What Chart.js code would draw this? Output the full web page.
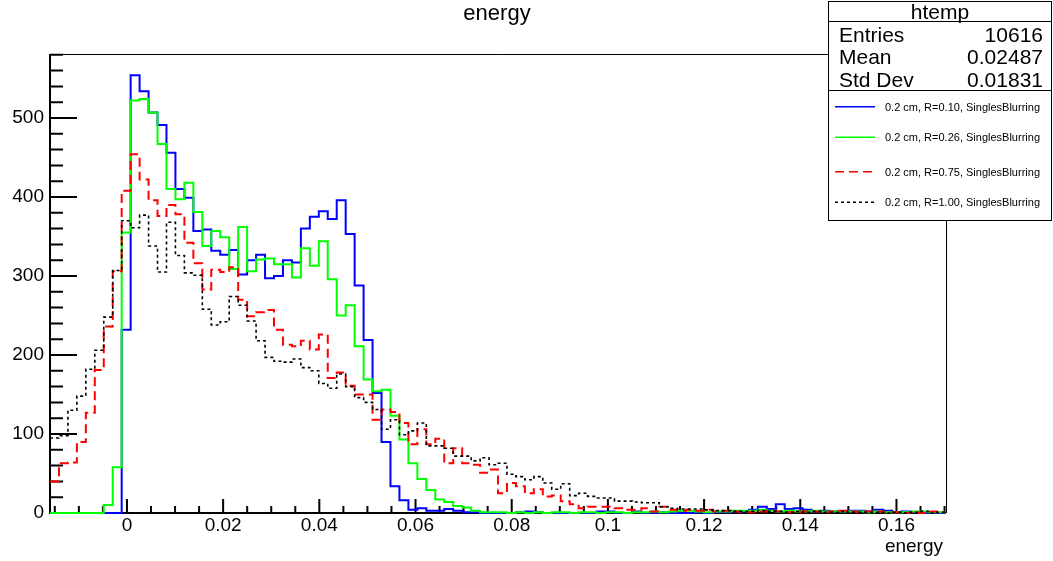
<!DOCTYPE html>
<html>
<head>
<meta charset="utf-8">
<title>energy</title>
<script src="https://cdn.jsdelivr.net/npm/chart.js@4.4.1/dist/chart.umd.min.js"></script>
<style>
  html, body { margin: 0; padding: 0; background: #fff; }
  #wrap { position: relative; width: 1053px; height: 561px; overflow: hidden;
          font-family: "Liberation Sans", Arial, Helvetica, sans-serif; color: #000; }
  #plot { position: absolute; left: 0; top: 0; }
  .txt { position: absolute; white-space: nowrap; }
  #title { left: 0; width: 994px; top: 0; height: 26px; line-height: 26px; text-align: center; font-size: 22px; }
  #xtitle { right: 110px; top: 534px; height: 24px; line-height: 24px; font-size: 19px; }
  #stats { position: absolute; left: 828px; top: 1px; width: 222px; height: 218px;
           border: 1px solid #000; background: #fff; }
  .sep { position: absolute; left: 0; width: 222px; height: 1px; background: #000; }
  .stat { position: absolute; height: 24px; line-height: 24px; font-size: 21px; white-space: nowrap; }
  .leg { position: absolute; left: 56px; height: 14px; line-height: 14px; font-size: 11px; white-space: nowrap; }
</style>
</head>
<body>
<div id="wrap">
  <canvas id="plot" width="1053" height="561"></canvas>
  <div id="title" class="txt">energy</div>
  <div id="xtitle" class="txt">energy</div>
  <div id="stats">
    <div class="stat" style="left:0;width:222px;top:-2px;text-align:center;">htemp</div>
    <div class="sep" style="top:19px;"></div>
    <div class="stat" style="left:10px;top:21px;">Entries</div>
    <div class="stat" id="sEntries" style="right:8px;top:21px;"></div>
    <div class="stat" style="left:10px;top:43px;">Mean</div>
    <div class="stat" id="sMean" style="right:8px;top:43px;"></div>
    <div class="stat" style="left:10px;top:66px;">Std Dev</div>
    <div class="stat" id="sStd" style="right:8px;top:66px;"></div>
    <div class="sep" style="top:88px;"></div>
    <svg id="legLines" width="222" height="216" style="position:absolute;left:0;top:0;"></svg>
  </div>
</div>
<script>
const X_MIN = -0.016;
const X_MAX = 0.1703;
const N_BINS = 100;
const Y_MAX = 581;

const seriesLabels = [
  '0.2 cm, R=0.10, SinglesBlurring',
  '0.2 cm, R=0.26, SinglesBlurring',
  '0.2 cm, R=0.75, SinglesBlurring',
  '0.2 cm, R=1.00, SinglesBlurring'
];
const seriesColors = ['#0000ff', '#00ff00', '#ff0000', '#000000'];
const seriesDash   = [[], [], [9, 5], [3, 3]];
const seriesWidth  = [2, 2, 2, 1.6];

// bin contents
const countsR010 = [
  0, 0, 0, 0, 0, 0, 0, 0, 232, 554,
  534, 507, 491, 456, 410, 399, 357, 359, 332, 327,
  333, 302, 320, 327, 297, 300, 320, 317, 360, 375,
  382, 372, 396, 353, 288, 219, 152, 90, 34, 16,
  4, 6, 3, 3, 5, 3, 1, 1, 0, 0,
  0, 0, 1, 2, 1, 0, 0, 0, 0, 0,
  0, 2, 2, 0, 0, 2, 0, 0, 1, 0,
  0, 0, 1, 0, 1, 1, 2, 2, 4, 8,
  5, 11, 5, 6, 4, 2, 3, 2, 2, 3,
  3, 2, 4, 3, 1, 2, 1, 0, 1, 0
];
const countsR026 = [
  0, 0, 0, 0, 0, 0, 10, 58, 355, 522,
  524, 507, 467, 410, 397, 418, 381, 338, 357, 349,
  309, 362, 306, 321, 322, 315, 315, 298, 335, 313,
  344, 296, 250, 263, 211, 169, 154, 156, 123, 93,
  63, 43, 29, 17, 14, 9, 7, 3, 1, 1,
  1, 0, 1, 0, 1, 0, 1, 1, 0, 1,
  1, 0, 1, 1, 0, 1, 1, 2, 1, 2,
  3, 3, 2, 1, 2, 2, 3, 3, 3, 4,
  3, 2, 3, 2, 2, 3, 2, 2, 2, 2,
  2, 1, 2, 1, 1, 1, 2, 2, 1, 1
];
const countsR075 = [
  40, 63, 64, 90, 127, 181, 236, 306, 408, 454,
  422, 396, 376, 390, 378, 342, 316, 283, 308, 305,
  311, 270, 249, 254, 257, 232, 213, 211, 218, 207,
  226, 171, 178, 161, 150, 150, 118, 131, 128, 114,
  87, 106, 87, 94, 63, 82, 63, 61, 51, 55,
  25, 38, 34, 25, 30, 21, 22, 15, 11, 6,
  8, 8, 8, 6, 4, 4, 6, 2, 8, 4,
  3, 4, 3, 4, 2, 3, 2, 1, 1, 2,
  3, 2, 1, 1, 2, 2, 1, 2, 3, 2,
  1, 2, 2, 1, 1, 0, 1, 0, 2, 1
];
const countsR100 = [
  95, 98, 130, 148, 182, 206, 248, 307, 370, 361,
  377, 338, 305, 368, 326, 304, 301, 258, 238, 242,
  274, 263, 243, 218, 197, 192, 191, 195, 184, 180,
  164, 158, 176, 160, 146, 140, 131, 106, 118, 99,
  104, 114, 85, 85, 82, 72, 72, 66, 70, 61,
  63, 49, 46, 42, 46, 38, 30, 37, 22, 25,
  21, 19, 19, 15, 15, 14, 13, 13, 8, 6,
  5, 5, 5, 4, 3, 3, 2, 2, 2, 3,
  2, 2, 1, 2, 1, 2, 1, 1, 2, 1,
  1, 1, 1, 0, 1, 0, 1, 2, 0, 1
];
const allCounts = [countsR010, countsR026, countsR075, countsR100];

const xTickValues = [0, 0.02, 0.04, 0.06, 0.08, 0.1, 0.12, 0.14, 0.16];
const xTickLabels = ['0', '0.02', '0.04', '0.06', '0.08', '0.1', '0.12', '0.14', '0.16'];
const yTickValues = [0, 100, 200, 300, 400, 500];
const yTickLabels = ['0', '100', '200', '300', '400', '500'];

const statEntries = '10616';
const statMean    = '0.02487';
const statStdDev  = '0.01831';

// one point per bin left edge, plus the closing edge
function toSteps(counts) {
  const w = (X_MAX - X_MIN) / N_BINS;
  const pts = counts.map((c, i) => ({ x: X_MIN + i * w, y: c }));
  pts.push({ x: X_MAX, y: counts[counts.length - 1] });
  return pts;
}

// ROOT-style frame with inward ticks
const rootFrame = {
  id: 'rootFrame',
  beforeDatasetsDraw(chart) {
    const { ctx, chartArea: a, scales: { x, y } } = chart;
    ctx.save();
    ctx.strokeStyle = '#000';
    ctx.lineWidth = 1;
    ctx.beginPath();
    ctx.moveTo(a.left, a.top + 0.5);
    ctx.lineTo(a.right + 0.5, a.top + 0.5);
    ctx.lineTo(a.right + 0.5, a.bottom);
    ctx.stroke();

    ctx.lineWidth = 2;
    ctx.beginPath();
    ctx.moveTo(a.left, a.top);
    ctx.lineTo(a.left, a.bottom);
    ctx.lineTo(a.right, a.bottom);
    // y ticks every 20, major every 100
    for (let i = 0; i * 20 <= Y_MAX; i++) {
      const py = y.getPixelForValue(i * 20);
      const len = i % 5 === 0 ? 27 : 13;
      ctx.moveTo(a.left, py);
      ctx.lineTo(a.left + len, py);
    }
    // x ticks every 0.005, major every 0.02
    for (let i = -3; i <= 34; i++) {
      const v = i * 0.005;
      if (v < X_MIN || v > X_MAX) continue;
      const px = x.getPixelForValue(v);
      const len = i % 4 === 0 ? 14 : 7;
      ctx.moveTo(px, a.bottom);
      ctx.lineTo(px, a.bottom - len);
    }
    ctx.stroke();
    ctx.restore();
  }
};

const tickFont = { family: '"Liberation Sans", Arial, sans-serif', size: 19 };

const datasets = allCounts.map((counts, i) => ({
  label: seriesLabels[i],
  data: toSteps(counts),
  borderColor: seriesColors[i],
  borderWidth: seriesWidth[i],
  borderDash: seriesDash[i],
  stepped: true,
  pointRadius: 0,
  fill: false,
  clip: false,
  order: allCounts.length - i
}));

new Chart(document.getElementById('plot'), {
  type: 'line',
  data: { datasets },
  options: {
    responsive: false,
    devicePixelRatio: 1,
    animation: false,
    parsing: false,
    layout: { padding: { left: 0, top: 54, right: 107, bottom: 0 } },
    plugins: {
      legend: { display: false },
      title: { display: false },
      tooltip: { enabled: false }
    },
    scales: {
      x: {
        type: 'linear',
        min: X_MIN,
        max: X_MAX,
        afterBuildTicks: s => { s.ticks = xTickValues.map(v => ({ value: v })); },
        afterFit: s => { s.height = 48; },
        grid: { display: false, drawTicks: false },
        border: { display: false },
        ticks: {
          autoSkip: false, maxRotation: 0, padding: 1,
          color: '#000', font: tickFont,
          callback: (v, i) => xTickLabels[i]
        }
      },
      y: {
        min: 0,
        max: Y_MAX,
        afterBuildTicks: s => { s.ticks = yTickValues.map(v => ({ value: v })); },
        afterFit: s => { s.width = 50; },
        grid: { display: false, drawTicks: false },
        border: { display: false },
        ticks: {
          padding: 6,
          color: '#000', font: tickFont,
          callback: (v, i) => yTickLabels[i]
        }
      }
    }
  },
  plugins: [rootFrame]
});

// stats box and legend
document.getElementById('sEntries').textContent = statEntries;
document.getElementById('sMean').textContent = statMean;
document.getElementById('sStd').textContent = statStdDev;

const legCentres = [104.7, 135.3, 169.7, 200.3];
const svg = document.getElementById('legLines');
const stats = document.getElementById('stats');
seriesLabels.forEach((name, i) => {
  const ln = document.createElementNS('http://www.w3.org/2000/svg', 'line');
  ln.setAttribute('x1', 6);
  ln.setAttribute('x2', 46);
  ln.setAttribute('y1', legCentres[i]);
  ln.setAttribute('y2', legCentres[i]);
  ln.setAttribute('stroke', seriesColors[i]);
  ln.setAttribute('stroke-width', 1.5);
  if (seriesDash[i].length) ln.setAttribute('stroke-dasharray', seriesDash[i].join(' '));
  svg.appendChild(ln);

  const t = document.createElement('div');
  t.className = 'leg';
  t.style.top = (legCentres[i] - 7) + 'px';
  t.textContent = name;
  stats.appendChild(t);
});
</script>
</body>
</html>
